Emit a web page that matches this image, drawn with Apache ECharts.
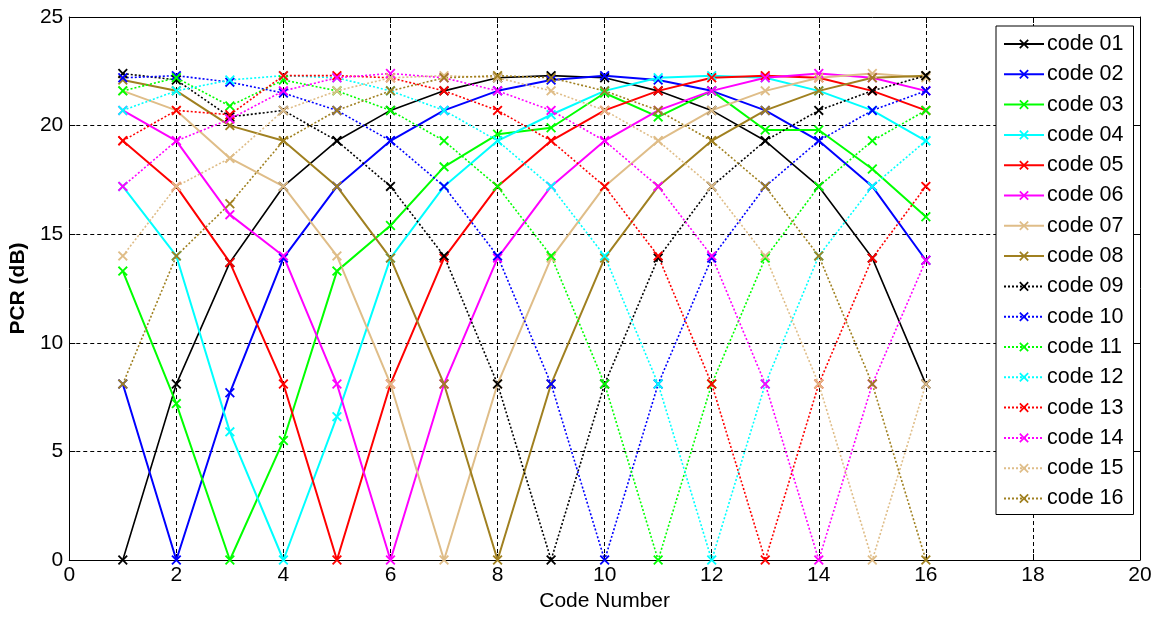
<!DOCTYPE html>
<html>
<head>
<meta charset="utf-8">
<title>PCR vs Code Number</title>
<script src="https://cdn.jsdelivr.net/npm/echarts@6/dist/echarts.min.js"></script>
<style>
  html, body { margin: 0; padding: 0; background: #ffffff; }
  #chart { width: 1165px; height: 619px; }
</style>
</head>
<body>
<div id="chart"></div>
<script>
// Code numbers on the horizontal axis
const codeNumbers = [1, 2, 3, 4, 5, 6, 7, 8, 9, 10, 11, 12, 13, 14, 15, 16];

// PCR (dB) of each code, one value per code number
const code01 = [0, 8.1, 13.7, 17.2, 19.3, 20.7, 21.6, 22.2, 22.3, 22.2, 21.6, 20.7, 19.3, 17.2, 13.9, 8.1];
const code02 = [8.1, 0, 7.7, 13.9, 17.2, 19.3, 20.7, 21.6, 22.1, 22.3, 22.1, 21.6, 20.7, 19.3, 17.2, 13.8];
const code03 = [13.3, 7.2, 0, 5.5, 13.3, 15.4, 18.1, 19.6, 19.9, 21.5, 20.4, 21.6, 19.8, 19.8, 18.0, 15.8];
const code04 = [17.2, 14.0, 5.9, 0, 6.6, 13.9, 17.2, 19.3, 20.5, 21.6, 22.2, 22.3, 22.2, 21.6, 20.7, 19.3];
const code05 = [19.3, 17.2, 13.7, 8.1, 0, 8.1, 13.9, 17.2, 19.3, 20.7, 21.6, 22.2, 22.3, 22.2, 21.6, 20.7];
const code06 = [20.7, 19.3, 15.9, 14.0, 8.1, 0, 8.1, 13.9, 17.2, 19.3, 20.7, 21.6, 22.2, 22.4, 22.2, 21.6];
const code07 = [21.6, 20.7, 18.5, 17.2, 14.0, 8.1, 0, 8.1, 13.9, 17.2, 19.3, 20.7, 21.6, 22.2, 22.4, 22.2];
const code08 = [22.1, 21.6, 20.0, 19.3, 17.2, 13.9, 8.1, 0, 8.1, 13.9, 17.2, 19.3, 20.7, 21.6, 22.2, 22.3];
const code09 = [22.4, 22.1, 20.4, 20.7, 19.3, 17.2, 14.0, 8.1, 0, 8.1, 13.9, 17.2, 19.3, 20.7, 21.6, 22.3];
const code10 = [22.2, 22.3, 22.0, 21.5, 20.7, 19.3, 17.2, 14.0, 8.1, 0, 8.1, 13.9, 17.2, 19.3, 20.7, 21.6];
const code11 = [21.6, 22.2, 20.9, 22.1, 21.6, 20.7, 19.3, 17.2, 14.0, 8.1, 0, 8.1, 13.9, 17.2, 19.3, 20.7];
const code12 = [20.7, 21.6, 22.1, 22.3, 22.2, 21.6, 20.7, 19.3, 17.2, 14.0, 8.1, 0, 8.1, 14.0, 17.2, 19.3];
const code13 = [19.3, 20.7, 20.5, 22.3, 22.3, 22.2, 21.6, 20.7, 19.3, 17.2, 14.0, 8.1, 0, 8.1, 13.9, 17.2];
const code14 = [17.2, 19.3, 20.3, 21.6, 22.2, 22.4, 22.2, 21.6, 20.7, 19.3, 17.2, 14.0, 8.1, 0, 8.1, 13.8];
const code15 = [14.0, 17.2, 18.5, 20.7, 21.6, 22.2, 22.3, 22.2, 21.6, 20.7, 19.3, 17.2, 14.0, 8.1, 0, 8.1];
const code16 = [8.1, 14.0, 16.4, 19.3, 20.7, 21.6, 22.2, 22.3, 22.2, 21.6, 20.7, 19.3, 17.2, 14.0, 8.1, 0];

const seriesNames = ['code 01', 'code 02', 'code 03', 'code 04', 'code 05', 'code 06', 'code 07', 'code 08',
                     'code 09', 'code 10', 'code 11', 'code 12', 'code 13', 'code 14', 'code 15', 'code 16'];
const seriesValues = [code01, code02, code03, code04, code05, code06, code07, code08,
                      code09, code10, code11, code12, code13, code14, code15, code16];

// Axis ranges and ticks
const xMin = 0, xMax = 20, xStep = 2;
const yMin = 0, yMax = 25, yStep = 5;

// Palette: eight colours, solid for codes 01-08, dotted for codes 09-16
const palette = ['#000000', '#0000ff', '#00ff00', '#00ffff', '#ff0000', '#ff00ff', '#dfbd88', '#a08020'];

// Filled "x" marker
const crossMark = 'path://M0,1.3L1.3,0L5,3.7L8.7,0L10,1.3L6.3,5L10,8.7L8.7,10L5,6.3L1.3,10L0,8.7L3.7,5Z';

const font = '"Liberation Sans", Arial, sans-serif';

const series = seriesValues.map(function (vals, i) {
  const color = palette[i % 8];
  const dotted = i >= 8;
  return {
    name: seriesNames[i],
    type: 'line',
    data: codeNumbers.map(function (c, k) { return [c, vals[k]]; }),
    symbol: crossMark,
    symbolSize: 10,
    showAllSymbol: true,
    animation: false,
    itemStyle: { color: color },
    lineStyle: {
      color: color,
      width: (i === 0 || dotted) ? 1.6 : 2,
      type: dotted ? [2, 2] : 'solid'
    },
    emphasis: { disabled: true }
  };
});

const chart = echarts.init(document.getElementById('chart'), null, { renderer: 'canvas' });

chart.setOption({
  backgroundColor: '#ffffff',
  animation: false,
  textStyle: { fontFamily: font, color: '#000' },
  grid: { left: 68, right: 25, top: 17, bottom: 59, containLabel: false },
  legend: {
    orient: 'vertical',
    left: 996,
    top: 26,
    width: 137,
    padding: [6, 10, 4, 7],
    itemGap: 6.3,
    itemWidth: 40,
    itemHeight: 12,
    backgroundColor: '#ffffff',
    borderColor: '#000000',
    borderWidth: 1,
    borderRadius: 0,
    textStyle: { fontFamily: font, fontSize: 21.5, color: '#000', lineHeight: 24, padding: [0, 0, 0, -2] },
    data: seriesNames
  },
  xAxis: [{
    type: 'value',
    min: xMin, max: xMax, interval: xStep,
    name: 'Code Number',
    nameLocation: 'middle',
    nameGap: 31,
    nameTextStyle: { fontFamily: font, fontSize: 21, color: '#000' },
    axisLine: { show: true, onZero: false, lineStyle: { color: '#000', width: 1 } },
    axisTick: { show: true, inside: true, length: 6, lineStyle: { color: '#000' } },
    axisLabel: { fontFamily: font, fontSize: 21, color: '#000', margin: 5 },
    splitLine: { show: true, lineStyle: { color: '#000', width: 1, type: [4, 3] } }
  }, {
    type: 'value',
    position: 'top',
    min: xMin, max: xMax, interval: xStep,
    axisLine: { show: true, onZero: false, lineStyle: { color: '#000', width: 1 } },
    axisTick: { show: true, inside: true, length: 6, lineStyle: { color: '#000' } },
    axisLabel: { show: false },
    splitLine: { show: false }
  }],
  yAxis: [{
    type: 'value',
    min: yMin, max: yMax, interval: yStep,
    name: 'PCR (dB)',
    nameLocation: 'middle',
    nameGap: 35,
    nameRotate: 90,
    nameTextStyle: { fontFamily: font, fontSize: 21, fontWeight: 'bold', color: '#000' },
    axisLine: { show: true, onZero: false, lineStyle: { color: '#000', width: 1 } },
    axisTick: { show: true, inside: true, length: 6, lineStyle: { color: '#000' } },
    axisLabel: { fontFamily: font, fontSize: 21, color: '#000', margin: 6 },
    splitLine: { show: true, lineStyle: { color: '#000', width: 1, type: [4, 3] } }
  }, {
    type: 'value',
    position: 'right',
    min: yMin, max: yMax, interval: yStep,
    axisLine: { show: true, onZero: false, lineStyle: { color: '#000', width: 1 } },
    axisTick: { show: true, inside: true, length: 6, lineStyle: { color: '#000' } },
    axisLabel: { show: false },
    splitLine: { show: false }
  }],
  series: series
});
</script>
</body>
</html>
